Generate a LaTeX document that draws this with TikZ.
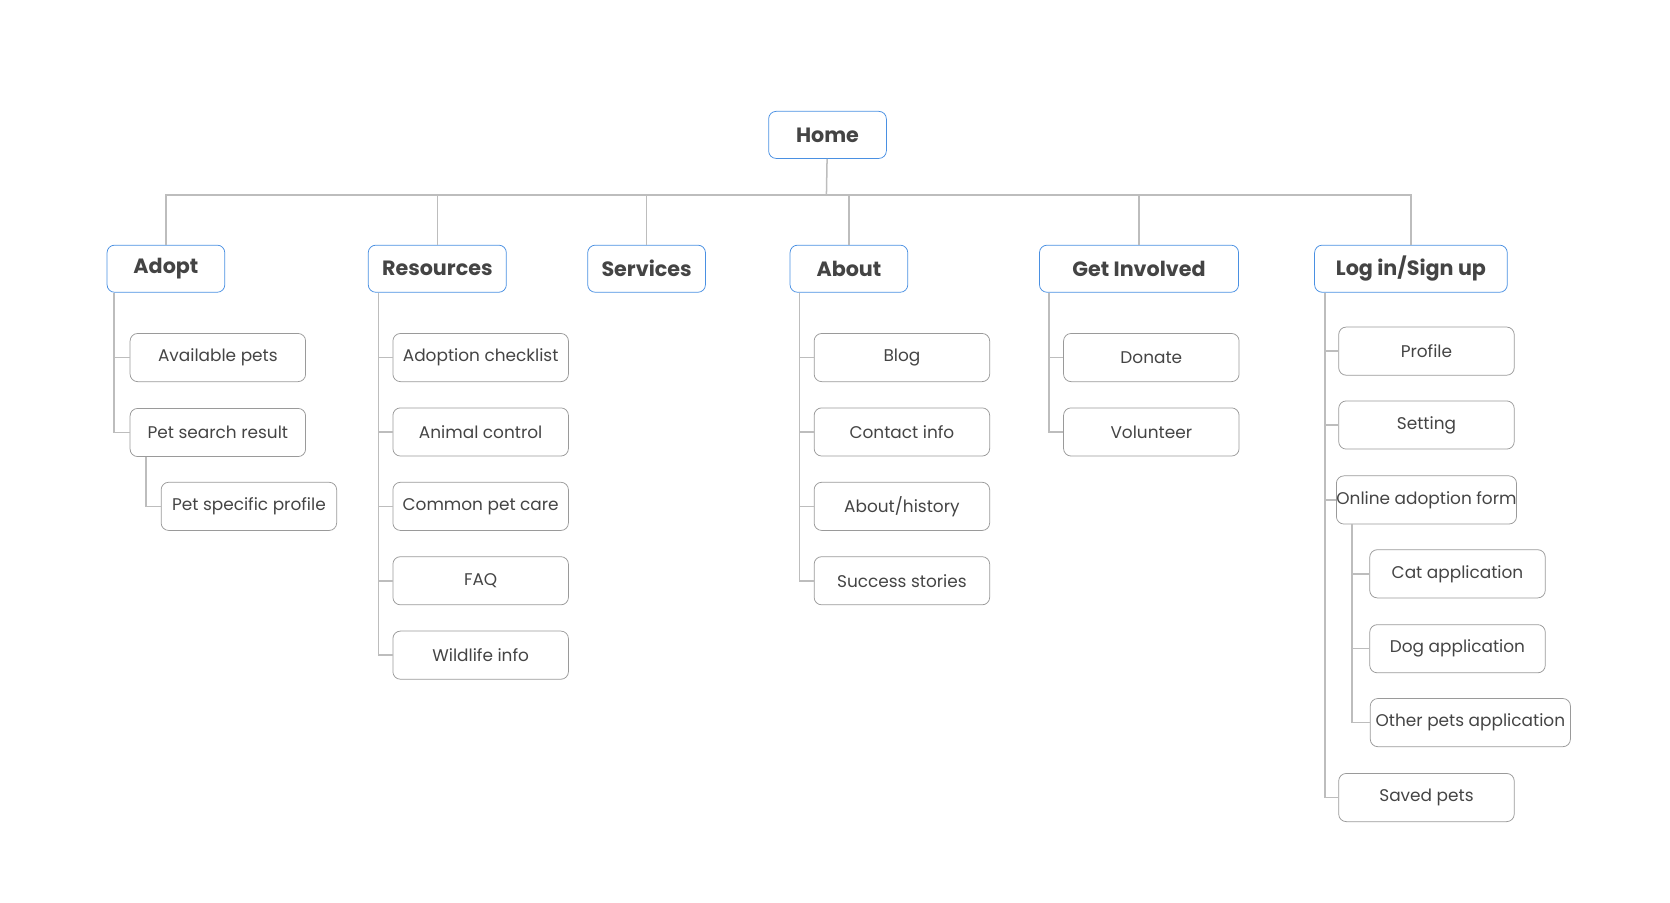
\documentclass[tikz,border=0pt]{standalone}
\usepackage{fontspec}
\setmainfont{Poppins}
\usetikzlibrary{calc}
\definecolor{topblue}{HTML}{4A90E2}
\definecolor{boxgray}{HTML}{9A9A9A}
\definecolor{linegray}{HTML}{BDBDBD}
\definecolor{txt}{HTML}{444444}
\begin{document}
\begin{tikzpicture}[x=0.02cm,y=-0.02cm]
	
	% Styles for the boxes
	\tikzset{
	top/.style={rectangle, draw=topblue, rounded corners=4pt, minimum height=0.88cm,
		text=txt, font=\bfseries\fontsize{11}{13}\selectfont, inner sep=0pt},
	page/.style={rectangle, draw=boxgray, rounded corners=4pt, minimum width=3.28cm,
		minimum height=0.9cm, text=txt, font=\fontsize{9}{11}\selectfont, inner sep=0pt},
	link/.style={draw=linegray, line width=0.8pt}
	}
	\useasboundingbox (0,0) rectangle (1560,843);
	\node[top, minimum width=2.2cm] (H) at (773,126) {Home};
	% --- First level ---
	\node[top, minimum width=2.2cm] (AD) at (155,251) {Adopt};
	\node[top, minimum width=2.58cm] (RE) at (408.5,251) {Resources};
	\node[top, minimum width=2.2cm] (SE) at (604,251) {Services};
	\node[top, minimum width=2.2cm] (AB) at (793,251) {About};
	\node[top, minimum width=3.72cm] (GI) at (1064,251) {Get Involved};
	\node[top, minimum width=3.6cm] (LO) at (1318,251) {Log in/Sign up};
	\coordinate (bus) at (772,182);
	\draw[link] (H) -- (bus);
	\draw[link] (AD.north) |- (bus) -| (LO.north);
	\foreach \n in {RE,SE,AB,GI}
		\draw[link] (\n.north) -- (\n.north |- bus);
	% --- Adopt ---
	\node[page] (AP) at (203.5,334) {Available pets};
	\node[page] (PS) at (203.5,404) {Pet search result};
	\node[page] (PP) at (232.5,473) {Pet specific profile};
	\foreach \c in {AP,PS}
		\draw[link] ($(AD.south west)+(7,0)$) |- (\c.west);
	\draw[link] ($(PS.south west)+(15,0)$) |- (PP.west);
	% --- Resources ---
	\foreach \t [count=\i] in {Adoption checklist,Animal control,Common pet care,FAQ,Wildlife info} {
		\node[page] (R\i) at (449,{334+69.5*(\i-1)}) {\t};
		\draw[link] ($(RE.south west)+(10,0)$) |- (R\i.west);
	}
	% --- About ---
	\foreach \t [count=\i] in {Blog,Contact info,About/history,Success stories} {
		\node[page] (B\i) at (842.5,{334+69.5*(\i-1)}) {\t};
		\draw[link] ($(AB.south west)+(9,0)$) |- (B\i.west);
	}
	% --- Get Involved ---
	\foreach \t [count=\i] in {Donate,Volunteer} {
		\node[page] (G\i) at (1075.5,{334+69.5*(\i-1)}) {\t};
		\draw[link] ($(GI.south west)+(9,0)$) |- (G\i.west);
	}
	% --- Log in/Sign up ---
	\node[page] (PR) at (1332.5,328) {Profile};
	\node[page] (ST) at (1332.5,397) {Setting};
	\node[page] (OA) at (1332.5,467) {Online adoption form};
	\node[page] (CA) at (1361.5,536) {Cat application};
	\node[page] (DA) at (1361.5,606) {Dog application};
	\node[page, minimum width=3.74cm] (OP) at (1373.5,675) {Other pets application};
	\node[page] (SP) at (1332.5,745) {Saved pets};
	\foreach \c in {PR,ST,OA,SP}
		\draw[link] ($(LO.south west)+(10,0)$) |- (\c.west);
	\foreach \c in {CA,DA,OP}
		\draw[link] ($(OA.south west)+(15,0)$) |- (\c.west);
\end{tikzpicture}
\end{document}
